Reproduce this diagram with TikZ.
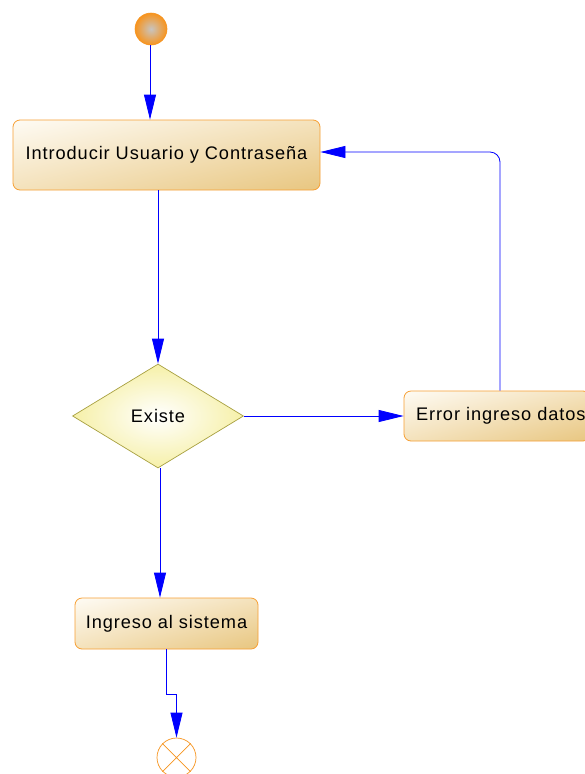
\documentclass[tikz,border=0pt]{standalone}
\usepackage{fontspec}
\setmainfont{Liberation Sans}[LetterSpace=5]
\usetikzlibrary{shapes.geometric,arrows.meta,shadings}

\definecolor{boxedge}{HTML}{F7A035}
\definecolor{boxlight}{HTML}{FEFBF4}
\definecolor{boxmid}{HTML}{F4E2BC}
\definecolor{boxdark}{HTML}{E8C680}
\definecolor{decedge}{HTML}{A8A040}
\definecolor{decfill}{HTML}{F6F0A8}
\definecolor{flowblue}{HTML}{0000FF}
\definecolor{startorange}{HTML}{F7941E}
\definecolor{startcore}{HTML}{C8C4C0}

\tikzset{
  activity/.style={draw=boxedge, line width=0.8pt, rounded corners=7pt,
    upper left=boxlight, upper right=boxmid, lower left=boxmid, lower right=boxdark,
    inner sep=0pt, font=\fontsize{18.2}{21}\selectfont},
  decision/.style={diamond, draw=decedge, line width=0.7pt, inner color=white,
    outer color=decfill, inner sep=0pt, font=\fontsize{18.2}{21}\selectfont},
  flow/.style={draw=flowblue, line width=0.8pt,
    -{Triangle[length=25pt,width=12pt]}},
}

\begin{document}
\begin{tikzpicture}[x=1pt,y=-1pt]
  \clip (0,0) rectangle (585,774);
  \fill[white] (0,0) rectangle (585,774);

  % initial node
  \node[circle, minimum size=32pt, inner sep=0pt, draw=startorange, line width=0.6pt,
        inner color=startcore, outer color=startorange] (start) at (151,29) {};

  % activities
  \node[activity, minimum width=307pt, minimum height=70pt] (login) at (166.5,155)
    {Introducir Usuario y Contraseña};
  \node[decision, minimum width=171pt, minimum height=104pt] (exists) at (158,416)
    {Existe};
  \node[activity, minimum width=186pt, minimum height=50pt, text width=162pt]
    (error) at (497,416) {\hbox{Error ingreso datos}};
  \node[activity, minimum width=183pt, minimum height=51pt] (enter) at (166.5,623.5)
    {Ingreso al sistema};

  % final node
  \node[circle, minimum size=39pt, inner sep=0pt, draw=startorange, line width=0.7pt,
        fill=white] (final) at (176.5,757.5) {};
  \draw[startorange, line width=0.7pt] (final.north east) -- (final.south west)
    (final.north west) -- (final.south east);

  % control flows
  \path[flow] ([xshift=-1pt]start.south) -- ([xshift=-1pt]start.south |- login.north);
  \path[flow] (exists.north |- login.south) -- (exists.north);
  \path[flow] (exists.east) -- (error.west);
  \path[flow] ([xshift=2pt]exists.south) -- ([xshift=2pt]exists.south |- enter.north);
  \path[flow, rounded corners=10pt] ([xshift=3pt]error.north) |- ([yshift=3pt]login.east);
  \path[flow] (enter.south) -- ++(0,45) -| (final.north);
\end{tikzpicture}
\end{document}
